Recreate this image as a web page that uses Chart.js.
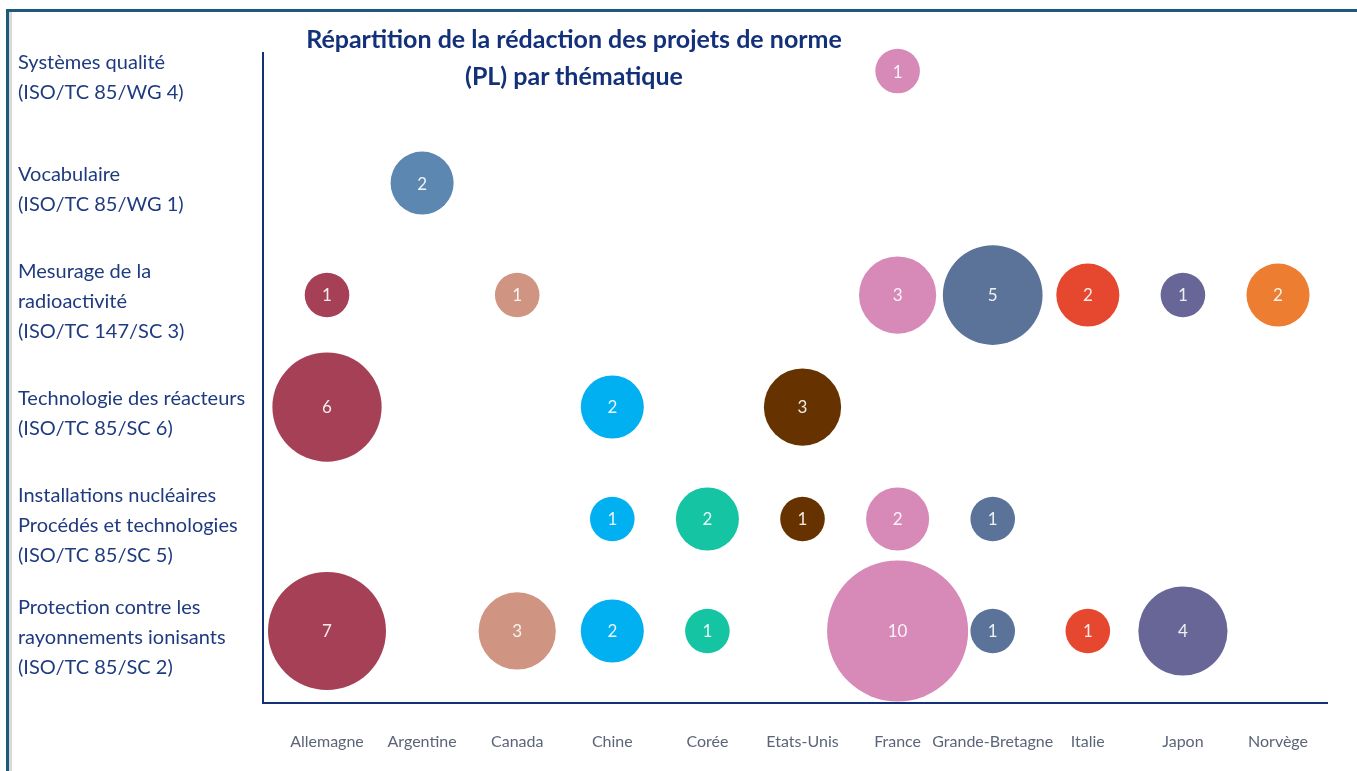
<!DOCTYPE html>
<html lang="fr">
<head>
    <meta charset="UTF-8">
    <title>Répartition de la rédaction des projets de norme</title>
    <script src="https://cdn.jsdelivr.net/npm/chart.js"></script>
    <style>
        body {
            margin: 0;
            background-color: #fff;
            font-family: 'Lato', sans-serif;
        }
        .cadre {
            position: absolute;
            left: 6px;
            top: 9px;
            width: 1360px;
            height: 780px;
            border-left: 3px solid #1b5a7d;
            border-top: 3px solid #1b5a7d;
            box-shadow: inset 3px 0 0 #d9d9d9;
        }
        .chart-container {
            position: relative;
            width: 1357px;
            height: 771px;
        }
        #titre {
            position: absolute;
            left: 254px;
            top: 20px;
            width: 640px;
            text-align: center;
            font-weight: bold;
            font-size: 25px;
            line-height: 37px;
            color: #13307a;
        }
    </style>
</head>
<body>
    <div class="cadre"></div>
    <div class="chart-container">
        <canvas id="bulleChart"></canvas>
        <div id="titre">Répartition de la rédaction des projets de norme<br>(PL) par thématique</div>
    </div>

    <script>
        // Pays (axe horizontal)
        const pays = ['Allemagne', 'Argentine', 'Canada', 'Chine', 'Corée', 'Etats-Unis',
            'France', 'Grande-Bretagne', 'Italie', 'Japon', 'Norvège'];

        // Thématiques (axe vertical, de haut en bas)
        const thematiques = [
            ['Systèmes qualité', '(ISO/TC 85/WG 4)'],
            ['Vocabulaire', '(ISO/TC 85/WG 1)'],
            ['Mesurage de la', 'radioactivité', '(ISO/TC 147/SC 3)'],
            ['Technologie des réacteurs', '(ISO/TC 85/SC 6)'],
            ['Installations nucléaires', 'Procédés et technologies', '(ISO/TC 85/SC 5)'],
            ['Protection contre les', 'rayonnements ionisants', '(ISO/TC 85/SC 2)']
        ];

        // Nombre de PL par pays, une liste par thématique (0 = aucun)
        const systemesQualite = [0, 0, 0, 0, 0, 0, 1, 0, 0, 0, 0];
        const vocabulaire     = [0, 2, 0, 0, 0, 0, 0, 0, 0, 0, 0];
        const mesurage        = [1, 0, 1, 0, 0, 0, 3, 5, 2, 1, 2];
        const technologie     = [6, 0, 0, 2, 0, 3, 0, 0, 0, 0, 0];
        const installations   = [0, 0, 0, 1, 2, 1, 2, 1, 0, 0, 0];
        const protection      = [7, 0, 3, 2, 1, 0, 10, 1, 1, 4, 0];

        const valeurs = [systemesQualite, vocabulaire, mesurage, technologie, installations, protection];

        const couleurs = ['#a64056', '#5b87b0', '#d09482', '#00b0f0', '#14c4a2', '#663300',
            '#d78ab7', '#5b7399', '#e6472f', '#676697', '#ed7d31'];

        // un dataset par pays
        const datasets = pays.map((p, i) => ({
            label: p,
            data: valeurs
                .map((ligne, j) => ({ x: i, y: j, v: ligne[i] }))
                .filter(pt => pt.v > 0),
            backgroundColor: couleurs[i],
            borderWidth: 0,
            clip: false
        }));

        // chiffres au centre des bulles
        const etiquettes = {
            id: 'etiquettes',
            afterDatasetsDraw(chart) {
                const ctx = chart.ctx;
                ctx.save();
                ctx.font = '17px Lato';
                ctx.fillStyle = 'rgba(255,255,255,0.9)';
                ctx.textAlign = 'center';
                ctx.textBaseline = 'middle';
                chart.data.datasets.forEach((ds, i) => {
                    chart.getDatasetMeta(i).data.forEach((el, k) => {
                        ctx.fillText(ds.data[k].v, el.x, el.y + 1);
                    });
                });
                ctx.restore();
            }
        };

        const ctx = document.getElementById('bulleChart').getContext('2d');
        new Chart(ctx, {
            type: 'bubble',
            data: { datasets: datasets },
            plugins: [etiquettes],
            options: {
                responsive: true,
                maintainAspectRatio: false,
                animation: false,
                layout: {
                    autoPadding: false,
                    padding: { left: 18, right: 30, top: 53, bottom: 0 }
                },
                elements: {
                    point: {
                        radius: c => 22.3 * Math.sqrt(c.raw ? c.raw.v : 1),
                        hoverRadius: 0
                    }
                },
                scales: {
                    x: {
                        type: 'linear',
                        min: -0.673,
                        max: 10.515,
                        afterBuildTicks: s => { s.ticks = pays.map((_, i) => ({ value: i })); },
                        afterFit: s => { s.height = 68; s.paddingLeft = 0; s.paddingRight = 0; },
                        grid: { display: false, drawTicks: false },
                        border: { display: true, color: '#14307a', width: 2 },
                        ticks: {
                            callback: v => pays[v],
                            padding: 29,
                            maxRotation: 0,
                            autoSkip: false,
                            color: '#5b6479',
                            font: { family: 'Lato', size: 16 }
                        }
                    },
                    y: {
                        type: 'linear',
                        reverse: true,
                        min: -0.161,
                        max: 5.643,
                        afterBuildTicks: s => { s.ticks = thematiques.map((_, i) => ({ value: i })); },
                        afterFit: s => { s.width = 245; s.paddingTop = 0; s.paddingBottom = 0; },
                        grid: { display: false, drawTicks: false },
                        border: { display: true, color: '#14307a', width: 2 },
                        ticks: {
                            callback: v => thematiques[v],
                            crossAlign: 'far',
                            labelOffset: 7,
                            color: '#1f3b80',
                            font: { family: 'Lato', size: 20, lineHeight: 1.5 }
                        }
                    }
                },
                plugins: {
                    legend: { display: false },
                    title: { display: false },
                    tooltip: { enabled: false }
                }
            }
        });
    </script>
</body>
</html>
